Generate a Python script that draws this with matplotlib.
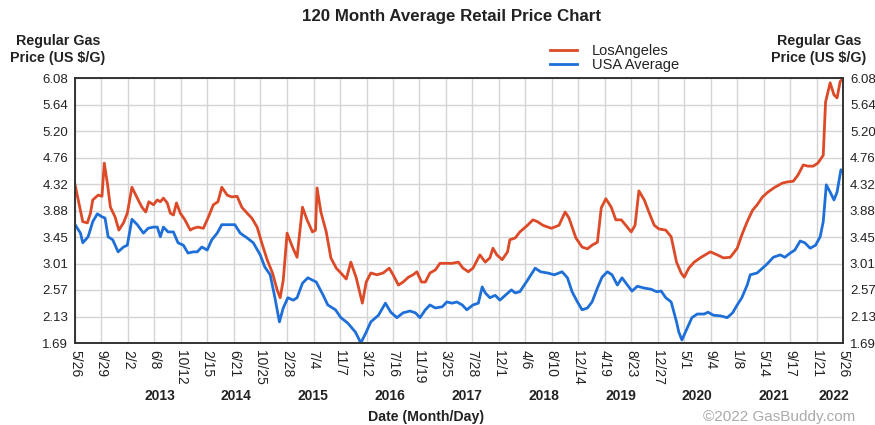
import matplotlib
matplotlib.use("Agg")
import matplotlib.pyplot as plt
import pandas as pd
import numpy as np

plt.rcParams['font.family'] = ['Liberation Sans', 'DejaVu Sans']

# ---- data (decimal years, $/gal) ----
la_t = [2012.40, 2012.50, 2012.56, 2012.60, 2012.63, 2012.70, 2012.75, 2012.78, 2012.82, 2012.86,
        2012.92, 2012.97, 2013.03, 2013.08, 2013.14, 2013.21, 2013.27, 2013.32, 2013.36, 2013.42,
        2013.47, 2013.51, 2013.55, 2013.60, 2013.64, 2013.68, 2013.72, 2013.77, 2013.83, 2013.90,
        2013.94, 2014.00, 2014.07, 2014.13, 2014.20, 2014.26, 2014.31, 2014.38, 2014.44, 2014.51,
        2014.57, 2014.64, 2014.70, 2014.77, 2014.83, 2014.90, 2014.97, 2015.03, 2015.07, 2015.11,
        2015.16, 2015.23, 2015.29, 2015.36, 2015.42, 2015.49, 2015.53, 2015.55, 2015.60, 2015.67,
        2015.73, 2015.80, 2015.86, 2015.93, 2015.99, 2016.06, 2016.14, 2016.19, 2016.25, 2016.33,
        2016.41, 2016.49, 2016.54, 2016.61, 2016.67, 2016.74, 2016.80, 2016.85, 2016.91, 2016.96,
        2017.02, 2017.09, 2017.15, 2017.22, 2017.31, 2017.39, 2017.45, 2017.52, 2017.58, 2017.67,
        2017.74, 2017.80, 2017.84, 2017.89, 2017.96, 2018.03, 2018.06, 2018.13, 2018.19, 2018.29,
        2018.36, 2018.42, 2018.49, 2018.60, 2018.70, 2018.78, 2018.83, 2018.92, 2019.00, 2019.07,
        2019.13, 2019.20, 2019.25, 2019.31, 2019.38, 2019.44, 2019.51, 2019.57, 2019.64, 2019.69,
        2019.74, 2019.81, 2019.87, 2019.94, 2020.00, 2020.09, 2020.16, 2020.23, 2020.29, 2020.33,
        2020.39, 2020.46, 2020.55, 2020.67, 2020.76, 2020.84, 2020.93, 2021.02, 2021.08, 2021.15,
        2021.22, 2021.28, 2021.35, 2021.42, 2021.51, 2021.61, 2021.68, 2021.75, 2021.81, 2021.88,
        2021.94, 2022.01, 2022.07, 2022.14, 2022.17, 2022.23, 2022.28, 2022.32, 2022.36, 2022.40]
la_v = [4.31, 3.70, 3.68, 3.84, 4.06, 4.14, 4.12, 4.67, 4.34, 3.94,
        3.78, 3.56, 3.68, 3.84, 4.27, 4.09, 3.94, 3.86, 4.03, 3.98,
        4.06, 4.03, 4.09, 4.01, 3.84, 3.81, 4.01, 3.84, 3.73, 3.56,
        3.59, 3.61, 3.59, 3.76, 3.98, 4.03, 4.27, 4.14, 4.11, 4.12,
        3.94, 3.84, 3.76, 3.61, 3.35, 3.07, 2.85, 2.57, 2.44, 2.73,
        3.51, 3.28, 3.11, 3.94, 3.73, 3.53, 3.56, 4.26, 3.86, 3.53,
        3.10, 2.93, 2.85, 2.75, 3.03, 2.77, 2.35, 2.70, 2.85, 2.82,
        2.85, 2.93, 2.82, 2.65, 2.70, 2.78, 2.82, 2.87, 2.70, 2.70,
        2.85, 2.90, 3.01, 3.01, 3.01, 3.03, 2.93, 2.87, 2.93, 3.15,
        3.03, 3.10, 3.26, 3.15, 3.07, 3.20, 3.40, 3.43, 3.53, 3.64,
        3.73, 3.70, 3.64, 3.59, 3.64, 3.86, 3.76, 3.43, 3.28, 3.25,
        3.31, 3.36, 3.93, 4.08, 3.94, 3.73, 3.73, 3.64, 3.53, 3.64,
        4.21, 4.06, 3.86, 3.64, 3.58, 3.56, 3.45, 3.03, 2.85, 2.78,
        2.93, 3.03, 3.11, 3.20, 3.15, 3.10, 3.11, 3.26, 3.48, 3.70,
        3.89, 3.98, 4.11, 4.19, 4.27, 4.34, 4.36, 4.37, 4.47, 4.64,
        4.62, 4.62, 4.67, 4.80, 5.68, 6.00, 5.80, 5.75, 6.02, 6.08]

us_t = [2012.40, 2012.47, 2012.50, 2012.57, 2012.63, 2012.69, 2012.75, 2012.79, 2012.83, 2012.89,
        2012.96, 2013.03, 2013.08, 2013.14, 2013.21, 2013.29, 2013.35, 2013.42, 2013.47, 2013.51,
        2013.55, 2013.61, 2013.68, 2013.74, 2013.81, 2013.87, 2013.94, 2013.99, 2014.05, 2014.12,
        2014.18, 2014.25, 2014.31, 2014.38, 2014.48, 2014.55, 2014.64, 2014.72, 2014.81, 2014.87,
        2014.94, 2015.00, 2015.06, 2015.11, 2015.17, 2015.24, 2015.29, 2015.36, 2015.43, 2015.54,
        2015.63, 2015.69, 2015.79, 2015.86, 2015.95, 2016.05, 2016.12, 2016.19, 2016.25, 2016.35,
        2016.44, 2016.51, 2016.59, 2016.67, 2016.76, 2016.83, 2016.89, 2016.96, 2017.02, 2017.09,
        2017.18, 2017.24, 2017.31, 2017.37, 2017.44, 2017.50, 2017.58, 2017.65, 2017.70, 2017.74,
        2017.80, 2017.87, 2017.93, 2018.00, 2018.08, 2018.13, 2018.19, 2018.29, 2018.39, 2018.46,
        2018.55, 2018.64, 2018.74, 2018.81, 2018.87, 2018.94, 2019.00, 2019.07, 2019.13, 2019.20,
        2019.26, 2019.33, 2019.39, 2019.46, 2019.52, 2019.59, 2019.65, 2019.72, 2019.81, 2019.90,
        2019.97, 2020.03, 2020.09, 2020.16, 2020.23, 2020.26, 2020.30, 2020.37, 2020.43, 2020.50,
        2020.59, 2020.64, 2020.71, 2020.80, 2020.89, 2020.96, 2021.02, 2021.08, 2021.15, 2021.19,
        2021.28, 2021.35, 2021.41, 2021.49, 2021.58, 2021.64, 2021.71, 2021.77, 2021.84, 2021.90,
        2021.97, 2022.04, 2022.10, 2022.14, 2022.18, 2022.23, 2022.28, 2022.32, 2022.37, 2022.40]
us_v = [3.65, 3.51, 3.35, 3.45, 3.70, 3.83, 3.78, 3.76, 3.45, 3.40,
        3.20, 3.28, 3.31, 3.74, 3.65, 3.51, 3.59, 3.61, 3.61, 3.45,
        3.61, 3.53, 3.53, 3.35, 3.31, 3.18, 3.20, 3.20, 3.28, 3.23,
        3.40, 3.51, 3.65, 3.65, 3.65, 3.51, 3.43, 3.35, 3.15, 2.95,
        2.82, 2.45, 2.04, 2.27, 2.44, 2.40, 2.44, 2.68, 2.77, 2.70,
        2.48, 2.32, 2.24, 2.11, 2.02, 1.87, 1.69, 1.87, 2.04, 2.15,
        2.35, 2.20, 2.11, 2.19, 2.22, 2.19, 2.11, 2.24, 2.32, 2.27,
        2.29, 2.37, 2.35, 2.37, 2.32, 2.24, 2.32, 2.35, 2.62, 2.52,
        2.44, 2.48, 2.40, 2.48, 2.57, 2.52, 2.54, 2.73, 2.93, 2.87,
        2.85, 2.82, 2.87, 2.77, 2.54, 2.37, 2.24, 2.27, 2.37, 2.60,
        2.78, 2.87, 2.82, 2.65, 2.77, 2.65, 2.55, 2.63, 2.60, 2.58,
        2.54, 2.55, 2.44, 2.37, 2.04, 1.87, 1.74, 1.94, 2.11, 2.17,
        2.17, 2.20, 2.15, 2.14, 2.11, 2.19, 2.32, 2.44, 2.65, 2.82,
        2.85, 2.93, 3.00, 3.11, 3.15, 3.11, 3.18, 3.23, 3.38, 3.35,
        3.26, 3.31, 3.45, 3.70, 4.31, 4.19, 4.06, 4.19, 4.56, 4.52]

series_names = ["LosAngeles", "USA Average"]
y_tick_labels = ["1.69", "2.13", "2.57", "3.01", "3.45", "3.88",
                 "4.32", "4.76", "5.20", "5.64", "6.08"]
x_tick_dates = ["2012-05-26", "2012-09-29", "2013-02-02", "2013-06-08", "2013-10-12",
                "2014-02-15", "2014-06-21", "2014-10-25", "2015-02-28", "2015-07-04",
                "2015-11-07", "2016-03-12", "2016-07-16", "2016-11-19", "2017-03-25",
                "2017-07-28", "2017-12-01", "2018-04-06", "2018-08-10", "2018-12-14",
                "2019-04-19", "2019-08-23", "2019-12-27", "2020-05-01", "2020-09-04",
                "2021-01-08", "2021-05-14", "2021-09-17", "2022-01-21", "2022-05-26"]
x_tick_labels = ["5/26", "9/29", "2/2", "6/8", "10/12", "2/15", "6/21", "10/25", "2/28", "7/4",
                 "11/7", "3/12", "7/16", "11/19", "3/25", "7/28", "12/1", "4/6", "8/10", "12/14",
                 "4/19", "8/23", "12/27", "5/1", "9/4", "1/8", "5/14", "9/17", "1/21", "5/26"]
years = [2013, 2014, 2015, 2016, 2017, 2018, 2019, 2020, 2021, 2022]


def dec_year(s):
    d = pd.Timestamp(s)
    n = 366 if d.is_leap_year else 365
    return d.year + (d.dayofyear - 1) / n


tick_pos = [dec_year(s) for s in x_tick_dates]
x0, x1 = tick_pos[0], tick_pos[-1]

RED = "#dc4a28"
BLUE = "#1f6fd8"
TXT = "#222222"

fig = plt.figure(figsize=(8.75, 4.25), dpi=100)
fig.patch.set_facecolor("white")
ax = fig.add_axes([75 / 875, 1 - 343 / 425, (843 - 75) / 875, (343 - 78) / 425])

ax.plot(la_t, la_v, color=RED, lw=2.0, label=series_names[0], solid_joinstyle="round")
ax.plot(us_t, us_v, color=BLUE, lw=2.0, label=series_names[1], solid_joinstyle="round")

yt = [float(v) for v in y_tick_labels]
yt = np.linspace(yt[0], yt[-1], len(yt))
ax.set_ylim(yt[0], yt[-1])
ax.set_xlim(x0, x1)
ax.set_yticks(yt)
ax.set_yticklabels(y_tick_labels, fontsize=9.5, color=TXT)
ax.set_xticks(tick_pos)
ax.set_xticklabels(x_tick_labels, rotation=-90, fontsize=10, color=TXT,
                   va="top", ha="center")
ax.tick_params(axis="both", length=0)
ax.tick_params(axis="y", pad=5, right=True, labelright=True)
ax.tick_params(axis="x", pad=5)
ax.grid(True, color="#d4d4d4", lw=1.0)
ax.set_axisbelow(True)
for sp in ax.spines.values():
    sp.set_color("#333333")
    sp.set_linewidth(1.4)

fig.text(452 / 875, 1 - 17 / 425, "120 Month Average Retail Price Chart",
         ha="center", va="center", fontsize=12.2, fontweight="bold", color=TXT)
fig.text(58 / 875, 1 - 49.5 / 425, "Regular Gas\nPrice (US $/G)", ha="center", va="center",
         fontsize=10.3, fontweight="bold", color=TXT, linespacing=1.2)
fig.text(819 / 875, 1 - 49.5 / 425, "Regular Gas\nPrice (US $/G)", ha="center", va="center",
         fontsize=10.3, fontweight="bold", color=TXT, linespacing=1.2)

for y in years:
    p = y + 0.5 if y + 0.5 < x1 else x1 - 0.12
    xf = (75 + (p - x0) / (x1 - x0) * 768) / 875
    fig.text(xf, 1 - 396 / 425, str(y), ha="center", va="center",
             fontsize=10, fontweight="bold", color=TXT)

fig.text(426 / 875, 1 - 417 / 425, "Date (Month/Day)", ha="center", va="center",
         fontsize=10.2, fontweight="bold", color=TXT)
fig.text(855 / 875, 1 - 417 / 425, "\u00a92022 GasBuddy.com", ha="right", va="center",
         fontsize=11, color="#aaaaaa")

leg = ax.legend(loc="upper left", bbox_to_anchor=(550 / 875, 1 - 44 / 425),
                bbox_transform=fig.transFigure, frameon=False, fontsize=10.5,
                handlelength=1.85, handletextpad=1.0, labelspacing=0.0,
                borderpad=0, borderaxespad=0)
for t in leg.get_texts():
    t.set_color(TXT)

fig.savefig("out.png", dpi=100, facecolor="white")
